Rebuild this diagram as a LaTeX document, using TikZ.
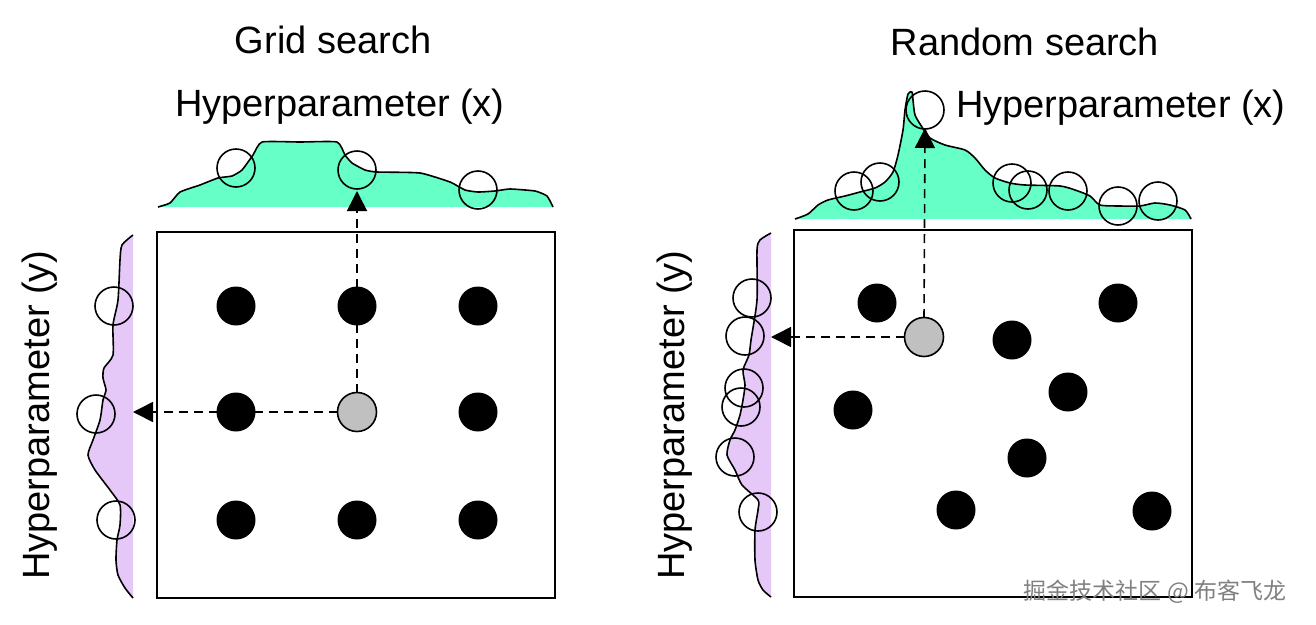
\documentclass[tikz,border=0pt]{standalone}
\usepackage{fontspec}
\setmainfont{Liberation Sans}
\newfontfamily\cjk{Noto Sans CJK SC}
\usetikzlibrary{arrows.meta}
\definecolor{mint}{RGB}{102,255,200}
\definecolor{lilac}{RGB}{230,200,248}
\definecolor{dotgray}{RGB}{192,192,192}
\begin{document}
\begin{tikzpicture}[x=1pt,y=-1pt,line width=1.6pt,
  dot/.style={circle,fill=black,minimum size=39pt,inner sep=0pt},
  sel/.style={circle,fill=dotgray,draw=black,minimum size=39pt,inner sep=0pt},
  ring/.style={circle,draw=black,minimum size=38pt,inner sep=0pt},
  dens/.style={draw=black,line join=round},
  probe/.style={dash pattern=on 9pt off 6pt,-{Triangle[length=20pt,width=20pt]}},
  lbl/.style={font=\fontsize{38}{42}\selectfont}]
\useasboundingbox (0,0) rectangle (1316,624);
% ---------- grid search ----------
\node[lbl] (t1) at (333,40) {Grid search};
\node[lbl] (hx1) at (340,107) {Hyperparameter (x)};
\node[lbl,rotate=90] (hy1) at (40,415) {Hyperparameter (y)};
\def\topA{(158,207)(170,203)(180,192)(200,185)(218,178)(232,176)(242,170)(253,155)(262,142)(300,142)(337,142)(345,155)(352,163)(365,170)(377,172)(420,173)(450,182)(465,190)(478,192)(495,191)(510,189)(535,191)(547,196)(553,207)}
\fill[mint] plot[smooth,tension=0.3] coordinates {\topA} -- cycle;
\draw[dens] plot[smooth,tension=0.3] coordinates {\topA};
\def\sideA{(133,235)(122,245)(120,260)(118,300)(113,325)(113,355)(104,368)(103,378)(106,390)(103,400)(100,420)(93,440)(88,455)(95,470)(110,490)(120,505)(120,525)(117,540)(116,560)(118,575)(125,588)(133,598)}
\fill[lilac] plot[smooth,tension=0.4] coordinates {\sideA} -- cycle;
\draw[dens] plot[smooth,tension=0.4] coordinates {\sideA};
\node[ring] (a1) at (236,168) {};
\node[ring] (a2) at (357,170) {};
\node[ring] (a3) at (478,190) {};
\node[ring] (b1) at (114,306) {};
\node[ring] (b2) at (96,414) {};
\node[ring] (b3) at (116,520) {};
\draw (157,232) rectangle (555,598);
\foreach \i/\x in {1/236,2/357,3/478}{
  \node[dot] (g\i1) at (\x,306) {};
  \node[dot] (g\i3) at (\x,520) {};}
\node[dot] (g12) at (236,412) {};
\node[dot] (g32) at (478,412) {};
\coordinate (up1) at (357,191);
\coordinate (lf1) at (133,412);
\draw[probe] (357,393) -- (up1);
\draw[probe] (338,412) -- (lf1);
\node[sel] (g22) at (357,412) {};
% ---------- random search ----------
\node[lbl] (t2) at (1025,42) {Random search};
\node[lbl,anchor=west] (hx2) at (952,108) {Hyperparameter (x)};
\node[lbl,rotate=90] (hy2) at (675,415) {Hyperparameter (y)};
\def\topB{(795,219)(808,214)(818,205)(828,200)(845,196)(860,192)(875,188)(885,182)(893,172)(898,155)(903,130)(905,110)(908,94)(912,92)(913,100)(915,115)(922,127)(930,138)(945,145)(965,150)(975,158)(985,170)(995,178)(1010,183)(1025,185)(1060,186)(1075,190)(1090,196)(1100,205)(1120,206)(1140,206)(1155,203)(1170,205)(1185,210)(1191,219)}
\fill[mint] plot[smooth,tension=0.4] coordinates {\topB} -- cycle;
\draw[dens] plot[smooth,tension=0.4] coordinates {\topB};
\def\sideB{(771,233)(760,240)(757,250)(757,300)(751,340)(749,355)(743,370)(745,385)(743,400)(740,415)(735,430)(730,440)(727,455)(735,470)(742,485)(758,500)(758,510)(755,530)(755,560)(758,580)(763,590)(771,597)}
\fill[lilac] plot[smooth,tension=0.4] coordinates {\sideB} -- cycle;
\draw[dens] plot[smooth,tension=0.4] coordinates {\sideB};
\foreach \n/\x/\y in {c1/854/191,c2/880/182,c3/925/110,c4/1012/183,c5/1028/190,c6/1068/191,c7/1118/206,c8/1158/201,d1/752/298,d2/745/336,d3/744/388,d4/741/407,d5/735/457,d6/758/512}
  \node[ring] (\n) at (\x,\y) {};
\draw (794,230) rectangle (1192,597);
\foreach \n/\x/\y in {r1/877/303,r2/1012/340,r3/1118/303,r4/853/410,r5/1068/392,r6/1027/458,r7/956/510,r8/1152/511}
  \node[dot] (\n) at (\x,\y) {};
\coordinate (up2) at (925,128);
\coordinate (lf2) at (771,337);
\draw[probe] (924,318) -- (up2);
\draw[probe] (905,337) -- (lf2);
\node[sel] (r0) at (924,337) {};
\node[font=\cjk\fontsize{23}{25}\selectfont,text=black!50] (wm) at (1155,592) {掘金技术社区 @ 布客飞龙};
\end{tikzpicture}
\end{document}
